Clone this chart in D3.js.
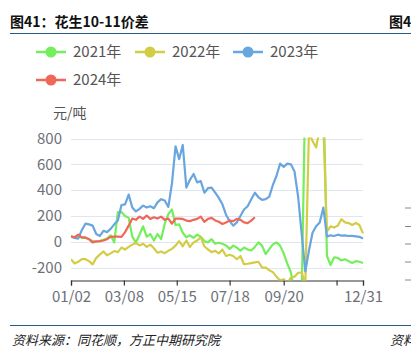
<!DOCTYPE html>
<html>
<head>
<meta charset="utf-8">
<script src="https://cdn.jsdelivr.net/npm/d3@7"></script>
<style>
  html, body { margin: 0; padding: 0; background: #fff; }
  svg { display: block; font-family: 'Noto Sans CJK SC', 'Noto Sans', sans-serif; }
</style>
</head>
<body>
<div class="chart"></div>
<script>
// 横轴为交易日序号，每3个交易日取一个值
const dayCount = 244
const sampleStep = 3
const tickIndex = [0, 44, 88, 132, 177, 221, 243]
const tickLabels = ['01/02', '03/08', '05/15', '07/18', '09/20', '', '12/31']
const yTicks = [-200, 0, 200, 400, 600, 800]

const seriesNames = ['2021年', '2022年', '2023年', '2024年']
const seriesColors = ['#74ee5c', '#d3cc45', '#69a5df', '#f0675a']

const values2021 = [45, 35, 50, 30, 30, 20, 5, 0, 5, 15, 25, 50, -5, 230, 230, 200, 185, 40, -5, 55,
  120, 40, 60, 10, 60, 20, 140, 215, 250, 130, 135, 70, 35, 50, 30, 55, 40, 5, -5, 20,
  -15, -8, -15, -28, -55, -30, -45, -68, -45, -60, -68, -40, -5, -30, -96, -57, -20, -5, -30, -90,
  -170, -235, -400, -400, -400, 1200, 1200, 1200, 1200, 1200, 1200, -110, -180, -120, -125, -145, -135, -150, -165, -150,
  -155, -165]
const values2022 = [-135, -168, -155, -135, -135, -150, -175, -125, -100, -75, -105, -90, -72, -80, -45, -60, -40, -22, -8, -28,
  -15, -40, -22, -50, -85, -75, -88, -70, -55, -30, 5, -35, 10, -40, -5, 10, 34, -35, -60, -80,
  -70, -90, -60, -110, -100, -110, -135, -110, -174, -170, -165, -160, -155, -200, -200, -220, -235, -270, -300, -290,
  -320, -278, -270, -240, -238, -330, 850, 780, 730, 880, 900, 80, 120, 110, 125, 175, 150, 145, 130, 145,
  130, 65]
const values2023 = [41, 30, 25, 90, 140, 135, 125, 60, 45, 85, 75, 100, 135, 165, 285, 290, 365, 265, 235, 255,
  280, 265, 275, 260, 305, 330, 320, 270, 450, 740, 640, 750, 420, 480, 525, 460, 470, 380, 415, 420,
  380, 340, 290, 210, 160, 125, 150, 200, 250, 275, 330, 380, 345, 325, 330, 350, 440, 510, 605, 580,
  605, 600, 545, 350, 60, -230, -70, 70, 120, 150, 265, 40, 50, 45, 55, 48, 50, 45, 45, 42,
  38, 25]
const values2024 = [41, 34, 55, 34, 34, 20, -5, 3, 5, 10, 20, 38, 40, 40, 38, 75, 125, 180, 170, 195,
  177, 203, 177, 190, 180, 195, 170, 180, 140, 180, 180, 177, 164, 160, 170, 177, 195, 155, 177, 185,
  165, 155, 138, 150, 164, 160, 177, 170, 150, 145, 164, 190]

const seriesValues = [values2021, values2022, values2023, values2024]

const width = 411
const height = 357
const plot = { left: 71, right: 363, top: 138.5, bottom: 280.5 }

const svg = d3.select('.chart').append('svg')
  .attr('width', width)
  .attr('height', height)
  .attr('viewBox', [0, 0, width, height])

const x = d3.scaleLinear().domain([0, dayCount - 1]).range([plot.left, plot.right])
const y = d3.scaleLinear().domain([-300, 800]).range([plot.bottom, plot.top])

// 标题与上下分隔线
svg.append('text')
  .attr('x', 10).attr('y', 27)
  .style('font-size', '14px').style('font-weight', 'bold').style('fill', '#111')
  .text('图41：花生10-11价差')
svg.append('text')
  .attr('x', 389).attr('y', 27)
  .style('font-size', '14px').style('font-weight', 'bold').style('fill', '#111')
  .text('图42')
svg.append('line')
  .attr('x1', 10).attr('x2', width).attr('y1', 33.5).attr('y2', 33.5)
  .attr('stroke', '#2a5b86').attr('stroke-width', 1.2)
svg.append('line')
  .attr('x1', 10).attr('x2', width).attr('y1', 325.5).attr('y2', 325.5)
  .attr('stroke', '#2a5b86').attr('stroke-width', 1.2)
svg.append('text')
  .attr('x', 12).attr('y', 345)
  .style('font-size', '13px').style('font-style', 'italic').style('fill', '#222')
  .text('资料来源：同花顺，方正中期研究院')
svg.append('text')
  .attr('x', 390).attr('y', 345)
  .style('font-size', '13px').style('font-style', 'italic').style('fill', '#222')
  .text('资料来源')

// 右侧相邻图表露出的刻度
svg.append('g').selectAll('line')
  .data([208, 226.5, 244, 262, 280])
  .join('line')
  .attr('x1', 405).attr('x2', 411)
  .attr('y1', d => d).attr('y2', d => d)
  .attr('stroke', '#888').attr('stroke-width', 1)

// 图例
const legendPos = [[36, 52], [135, 52], [233, 52], [36, 80]]
const legend = svg.append('g').selectAll('g')
  .data(seriesNames)
  .join('g')
  .attr('transform', (d, i) => `translate(${legendPos[i][0]},${legendPos[i][1]})`)
legend.append('line')
  .attr('x1', 0).attr('x2', 30)
  .attr('stroke', (d, i) => seriesColors[i]).attr('stroke-width', 2.5)
legend.append('circle')
  .attr('cx', 15).attr('r', 5.5)
  .attr('fill', (d, i) => seriesColors[i])
legend.append('text')
  .attr('x', 37).attr('dy', '0.35em')
  .style('font-size', '15px').style('fill', '#555')
  .text(d => d)

// 单位
svg.append('text')
  .attr('x', 53).attr('y', 118)
  .style('font-size', '14px').style('fill', '#555')
  .text('元/吨')

// 网格线与纵轴标签
svg.append('g').selectAll('line')
  .data(yTicks)
  .join('line')
  .attr('x1', plot.left).attr('x2', plot.right)
  .attr('y1', d => Math.round(y(d)) + 0.5).attr('y2', d => Math.round(y(d)) + 0.5)
  .attr('stroke', '#e0e6f1').attr('stroke-width', 1)
svg.append('g').selectAll('text')
  .data(yTicks)
  .join('text')
  .attr('x', 62).attr('y', d => y(d)).attr('dy', '0.35em')
  .attr('text-anchor', 'end')
  .style('font-size', '15px').style('fill', '#6e7079')
  .text(d => d)

// 横轴
const xAxis = svg.append('g')
  .attr('transform', `translate(0,${plot.bottom})`)
  .call(d3.axisBottom(x).tickValues(tickIndex).tickFormat((d, i) => tickLabels[i]).tickSizeOuter(0).tickSize(5).tickPadding(6))
xAxis.select('.domain').attr('stroke', '#333').attr('stroke-width', 1.2)
xAxis.selectAll('.tick line').attr('stroke', '#333').attr('stroke-width', 1.2)
xAxis.selectAll('.tick text')
  .style('font-size', '15px').style('fill', '#6e7079')
  .style('font-family', "'Noto Sans CJK SC', sans-serif")

// 折线
svg.append('clipPath').attr('id', 'plotClip')
  .append('rect')
  .attr('x', plot.left).attr('y', plot.top - 1)
  .attr('width', plot.right - plot.left + 2).attr('height', plot.bottom - plot.top + 1)

const line = d3.line()
  .x((d, i) => x(Math.min(i * sampleStep, dayCount - 1)))
  .y(d => y(d))

svg.append('g').attr('clip-path', 'url(#plotClip)')
  .selectAll('path')
  .data(seriesValues)
  .join('path')
  .attr('fill', 'none')
  .attr('stroke', (d, i) => seriesColors[i])
  .attr('stroke-width', 2.2)
  .attr('stroke-linejoin', 'round')
  .attr('d', line)
</script>
</body>
</html>
